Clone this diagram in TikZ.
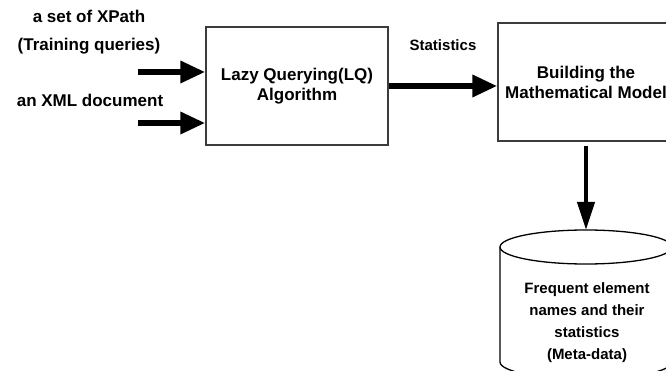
\documentclass[tikz,border=0pt]{standalone}
\usepackage{fontspec}
\setmainfont{Liberation Sans}
\usetikzlibrary{arrows.meta,positioning,calc}
\definecolor{LqInk}{RGB}{0,0,0}
\definecolor{LqFrame}{RGB}{60,60,60}
\tikzset{
  lq/box/.style={
    draw=LqFrame,
    line width=1.3pt,
    fill=white,
    align=center,
    text=LqInk,
    minimum width=182pt,
    minimum height=118pt,
    inner sep=0pt,
    font=\fontsize{17}{20}\selectfont\bfseries
  },
  lq/drum/.style={draw=LqInk, line width=1.3pt, fill=white},
  lq/label/.style={font=\fontsize{17}{20}\selectfont\bfseries, text=LqInk, align=center, inner sep=0pt},
  lq/small/.style={font=\fontsize{15}{22}\selectfont\bfseries, text=LqInk, align=center, inner sep=0pt},
  lq/arrow/.style={-{Triangle[length=25pt,width=21pt]}, line width=6.5pt, draw=LqInk},
  lq/downarrow/.style={-{Triangle[length=28pt,width=17pt]}, line width=4pt, draw=LqInk}
}
\begin{document}
\begin{tikzpicture}[x=1pt,y=-1pt]
  \useasboundingbox (0,0) rectangle (666,371);
  % blocks
  \node[lq/box] (lq) at (297,86) {Lazy Querying(LQ)\\Algorithm};
  \node[lq/box,minimum width=176pt] (model) at (586,82) {Building the\\Mathematical Model};
  % meta-data store
  \draw[lq/drum] (500,247) -- (500,362) arc[start angle=180,end angle=0,x radius=86,y radius=17] -- (672,247);
  \draw[lq/drum] (586,247) ellipse[x radius=86,y radius=17];
  \coordinate (metatop) at (586,230);
  \node[lq/small] (metatext) at (587,323) {Frequent element\\names and their\\statistics\\(Meta-data)};
  % inputs
  \node[lq/label] (xpath) at (89,32) {a set of XPath\\[8pt](Training queries)};
  \node[lq/label] (xml) at (90,100) {an XML document};
  \coordinate (inxpath) at (138,72);
  \coordinate (inxml) at (138,123);
  \draw[lq/arrow] (inxpath) -- (inxpath -| lq.west);
  \draw[lq/arrow] (inxml) -- (inxml -| lq.west);
  % statistics
  \draw[lq/arrow] (lq.east) -- (lq.east -| model.west);
  \node[lq/small] (stats) at (443,45) {Statistics};
  \draw[lq/downarrow,shorten <=4pt] (model.south) -- (metatop);
\end{tikzpicture}
\end{document}
